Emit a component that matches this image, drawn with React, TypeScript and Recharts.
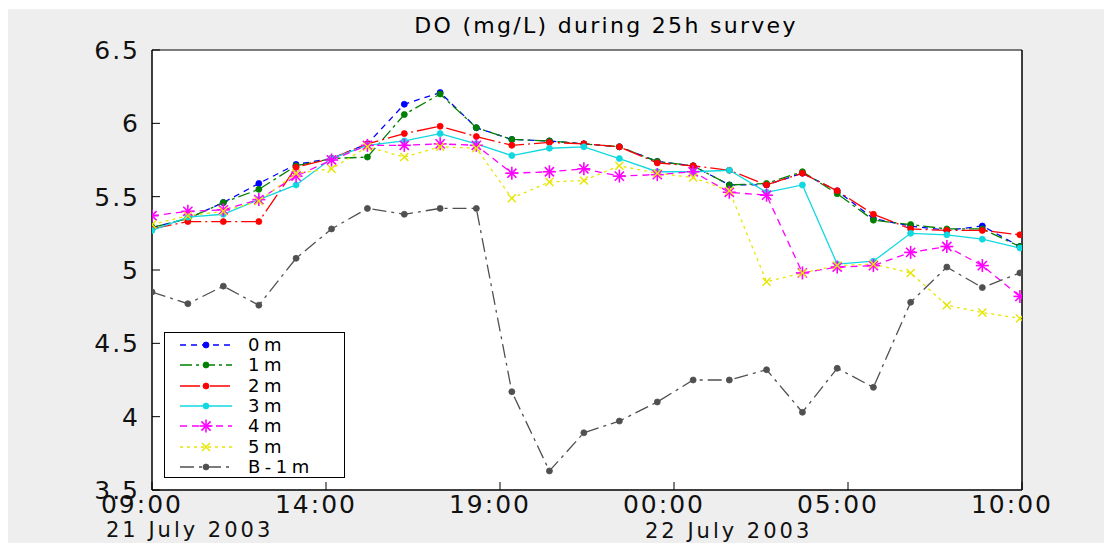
import React from 'react';
import { LineChart, Line, XAxis, YAxis, CartesianGrid, Legend } from 'recharts';

// sample times, hours after 09:00 on 21 July 2003
const hours = [0, 1.03, 2.05, 3.07, 4.14, 5.16, 6.19, 7.25, 8.28, 9.32, 10.34, 11.42, 12.41, 13.43, 14.52, 15.55, 16.59, 17.66, 18.69, 19.69, 20.73, 21.8, 22.84, 23.86, 24.94];

const do0m = [5.29, 5.35, 5.46, 5.59, 5.72, 5.76, 5.86, 6.13, 6.21, 5.97, 5.89, 5.88, 5.86, 5.84, 5.74, 5.71, 5.58, 5.58, 5.66, 5.54, 5.35, 5.30, 5.27, 5.30, 5.16];
const do1m = [5.29, 5.35, 5.46, 5.55, 5.71, 5.76, 5.77, 6.06, 6.20, 5.97, 5.89, 5.88, 5.86, 5.84, 5.74, 5.71, 5.58, 5.59, 5.67, 5.52, 5.34, 5.31, 5.28, 5.28, 5.16];
const do2m = [5.28, 5.33, 5.33, 5.33, 5.70, 5.76, 5.86, 5.93, 5.98, 5.91, 5.85, 5.87, 5.86, 5.84, 5.73, 5.71, 5.68, 5.58, 5.66, 5.54, 5.38, 5.28, 5.27, 5.27, 5.24];
const do3m = [5.27, 5.36, 5.38, 5.48, 5.58, 5.76, 5.85, 5.88, 5.93, 5.86, 5.78, 5.83, 5.84, 5.76, 5.67, 5.67, 5.68, 5.53, 5.58, 5.04, 5.06, 5.25, 5.24, 5.21, 5.15];
const do4m = [5.37, 5.40, 5.41, 5.48, 5.64, 5.75, 5.85, 5.85, 5.86, 5.85, 5.66, 5.67, 5.69, 5.64, 5.65, 5.67, 5.53, 5.51, 4.98, 5.02, 5.03, 5.12, 5.16, 5.03, 4.82];
const do5m = [5.31, 5.37, 5.40, 5.47, 5.66, 5.69, 5.84, 5.77, 5.84, 5.83, 5.49, 5.60, 5.61, 5.71, 5.66, 5.63, 5.54, 4.92, 4.98, 5.03, 5.04, 4.98, 4.76, 4.71, 4.67];
const doB1m = [4.85, 4.77, 4.89, 4.76, 5.08, 5.28, 5.42, 5.38, 5.42, 5.42, 4.17, 3.63, 3.89, 3.97, 4.10, 4.25, 4.25, 4.32, 4.03, 4.33, 4.20, 4.78, 5.02, 4.88, 4.98];

const xTicks = [0, 5, 10, 15, 20, 25];
const xTickLabels = ['09:00', '14:00', '19:00', '00:00', '05:00', '10:00'];
const yTicks = [3.5, 4, 4.5, 5, 5.5, 6, 6.5];

const FONT = "'DejaVu Sans', Verdana, sans-serif";

type MarkerKind = 'dot' | 'star' | 'x';
type SeriesDef = { key: string; name: string; values: number[]; color: string; dash?: string; marker: MarkerKind };

const series: SeriesDef[] = [
  { key: 'm0', name: '0m', values: do0m, color: '#0000ff', dash: '6 5', marker: 'dot' },
  { key: 'm1', name: '1m', values: do1m, color: '#008000', dash: '12 4 3 4', marker: 'dot' },
  { key: 'm2', name: '2m', values: do2m, color: '#ff0000', dash: '20 4 2 4', marker: 'dot' },
  { key: 'm3', name: '3m', values: do3m, color: '#10d8e0', marker: 'dot' },
  { key: 'm4', name: '4m', values: do4m, color: '#ff00ff', dash: '7 5', marker: 'star' },
  { key: 'm5', name: '5m', values: do5m, color: '#e6e600', dash: '3 4', marker: 'x' },
  { key: 'b1', name: 'B-1m', values: doB1m, color: '#505050', dash: '14 5 3 5', marker: 'dot' },
];

const data = hours.map((t, i) => {
  const row: Record<string, number> = { t };
  series.forEach(s => { row[s.key] = s.values[i]; });
  return row;
});

function Marker({ kind, cx, cy, color }: { kind: MarkerKind; cx: number; cy: number; color: string }) {
  if (kind === 'dot') return <circle cx={cx} cy={cy} r={3} fill={color} stroke={color} strokeWidth={0.8} />;
  if (kind === 'star') {
    const s = 6.5, d = 4.6;
    return (
      <g stroke={color} strokeWidth={1.6}>
        <line x1={cx - s} y1={cy} x2={cx + s} y2={cy} />
        <line x1={cx} y1={cy - s} x2={cx} y2={cy + s} />
        <line x1={cx - d} y1={cy - d} x2={cx + d} y2={cy + d} />
        <line x1={cx - d} y1={cy + d} x2={cx + d} y2={cy - d} />
      </g>
    );
  }
  const s = 4;
  return (
    <g stroke={color} strokeWidth={1.4}>
      <line x1={cx - s} y1={cy - s} x2={cx + s} y2={cy + s} />
      <line x1={cx - s} y1={cy + s} x2={cx + s} y2={cy - s} />
    </g>
  );
}

const LegendBox = () => (
  <div style={{ width: 181, height: 146, border: '1px solid #000', background: '#fff', paddingTop: 2, boxSizing: 'border-box', fontFamily: FONT }}>
    {series.map(s => (
      <div key={s.key} style={{ display: 'flex', alignItems: 'center', height: 20.3 }}>
        <svg width={70} height={20} style={{ display: 'block' }}>
          <line x1={15} x2={67} y1={10} y2={10} stroke={s.color} strokeWidth={1.3} strokeDasharray={s.dash} />
          <Marker kind={s.marker} cx={41} cy={10} color={s.color} />
        </svg>
        <span style={{ marginLeft: 13, fontSize: 18, letterSpacing: 4.5, color: '#000', lineHeight: '20px' }}>{s.name}</span>
      </div>
    ))}
  </div>
);

export default function App() {
  return (
    <div style={{ position: 'absolute', left: 0, top: 0, width: 1104, height: 543, background: '#fff', fontFamily: FONT, overflow: 'hidden' }}>
      <div style={{ position: 'absolute', left: 8, top: 9, width: 1096, height: 534, background: '#eeeeee' }} />
      <div style={{ position: 'absolute', left: 0, top: 17, width: 1212, textAlign: 'center', fontSize: 22, letterSpacing: 2.3, lineHeight: '18px', color: '#000' }}>
        DO (mg/L) during 25h survey
      </div>
      <div style={{ position: 'absolute', left: 106, top: 518, fontSize: 21, letterSpacing: 3, lineHeight: '24px', color: '#111', whiteSpace: 'nowrap' }}>21 July 2003</div>
      <div style={{ position: 'absolute', left: 645, top: 519, fontSize: 21, letterSpacing: 3, lineHeight: '24px', color: '#111', whiteSpace: 'nowrap' }}>22 July 2003</div>
      <div style={{ position: 'absolute', left: 0, top: 0 }}>
        <LineChart width={1104} height={543} data={data} margin={{ top: 49, right: 81, bottom: 52, left: 151 }}>
          <CartesianGrid horizontal={false} vertical={false} fill="#ffffff" fillOpacity={1} stroke="none" />
          <XAxis xAxisId="b" dataKey="t" type="number" domain={[0, 25]} ticks={xTicks} interval={0} height={1}
            tickFormatter={(v: number) => xTickLabels[xTicks.indexOf(v)] ?? ''}
            tickSize={-8} tickMargin={13} axisLine={{ stroke: '#000', strokeWidth: 1.5 }} tickLine={{ stroke: '#000' }}
            tick={{ fill: '#111', fontSize: 25, letterSpacing: 2, fontFamily: FONT, dx: -10 }} allowDataOverflow />
          <XAxis xAxisId="t" orientation="top" dataKey="t" type="number" domain={[0, 25]} ticks={xTicks} interval={0} height={1}
            tickSize={-8} tick={false} axisLine={{ stroke: '#000', strokeWidth: 1 }} tickLine={{ stroke: '#000' }} allowDataOverflow />
          <YAxis yAxisId="l" type="number" domain={[3.5, 6.5]} ticks={yTicks} interval={0} width={1}
            tickSize={-8} tickMargin={20} axisLine={{ stroke: '#000', strokeWidth: 1.5 }} tickLine={{ stroke: '#000' }}
            tick={{ fill: '#111', fontSize: 25, letterSpacing: 2, fontFamily: FONT }} allowDataOverflow />
          <YAxis yAxisId="r" orientation="right" type="number" domain={[3.5, 6.5]} ticks={yTicks} interval={0} width={1}
            tickSize={-8} tick={false} axisLine={{ stroke: '#000', strokeWidth: 1.5 }} tickLine={{ stroke: '#000' }} allowDataOverflow />
          {series.map(s => (
            <Line key={s.key} xAxisId="b" yAxisId="l" type="linear" dataKey={s.key} name={s.name}
              stroke={s.color} strokeWidth={1.3} strokeDasharray={s.dash} isAnimationActive={false}
              dot={(p: any) => <Marker key={`${s.key}-${p.index}`} kind={s.marker} cx={p.cx} cy={p.cy} color={s.color} />}
              activeDot={false} />
          ))}
          <Legend content={<LegendBox />} layout="vertical" align="center" verticalAlign="middle"
            wrapperStyle={{ left: 164, top: 332, width: 181, height: 146 }} />
        </LineChart>
      </div>
    </div>
  );
}
